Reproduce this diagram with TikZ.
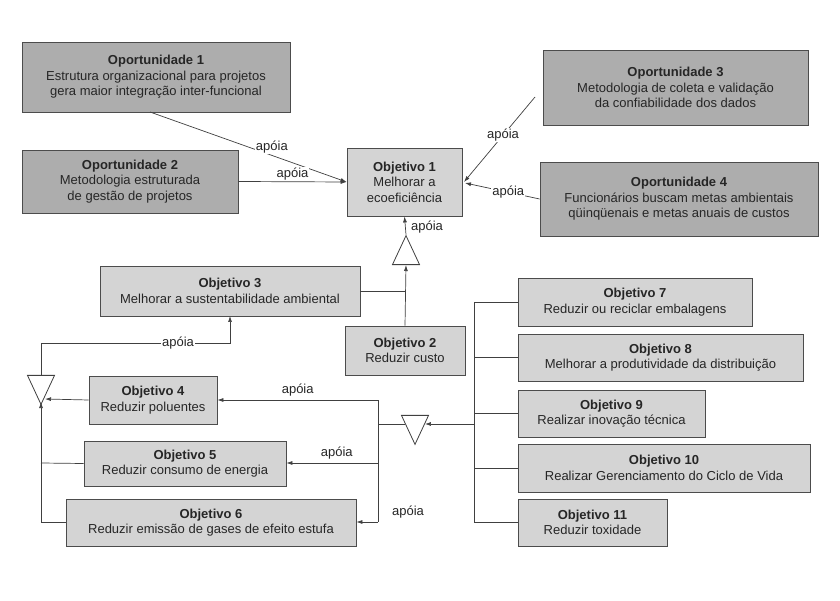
\documentclass[tikz,border=0pt]{standalone}
\usepackage{fontspec}
\setmainfont{Liberation Sans}
\usetikzlibrary{arrows.meta,shapes.geometric}
\begin{document}
\begin{tikzpicture}[x=1pt,y=-1pt,
  every node/.style={font=\fontsize{13}{15.5}\selectfont, text=black!85},
  opp/.style={draw=black!70, fill=black!32, line width=0.8pt, align=center, inner sep=0pt},
  obj/.style={draw=black!70, fill=black!17, line width=0.8pt, align=center, inner sep=0pt},
  ln/.style={draw=black!75, line width=0.7pt},
  ar/.style={ln, -{Latex[length=6pt,width=4pt]}},
  lbl/.style={fill=white, inner sep=1pt},
  tridown/.style={draw=black!75, fill=white, line width=0.8pt, isosceles triangle, shape border rotate=-90, isosceles triangle apex angle=50, minimum height=29pt, inner sep=0pt},
  triup/.style={tridown, shape border rotate=90}]
\useasboundingbox (0,0) rectangle (840,601);
\fill[white] (0,0) rectangle (840,601);
\newcommand{\bx}[7]{\node[#1, minimum width=#5-#3, minimum height=#6-#4] (#2) at ({(#3+#5)/2},{(#4+#6)/2}) {#7};}
\bx{opp}{o1}{22}{42}{290}{112}{\textbf{Oportunidade 1}\\Estrutura organizacional para projetos\\gera maior integração inter-funcional}
\bx{opp}{o2}{22}{150}{238}{213}{\textbf{Oportunidade 2}\\Metodologia estruturada\\de gestão de projetos}
\bx{opp}{o3}{543}{50}{808}{125}{\textbf{Oportunidade 3}\\Metodologia de coleta e validação\\da confiabilidade dos dados}
\bx{opp}{o4}{540}{162}{818}{236}{\textbf{Oportunidade 4}\\Funcionários buscam metas ambientais\\qüinqüenais e metas anuais de custos}
\bx{obj}{b1}{347}{148}{462}{216}{\textbf{Objetivo 1}\\Melhorar a\\ecoeficiência}
\bx{obj}{b3}{100}{266}{360}{316}{\textbf{Objetivo 3}\\Melhorar a sustentabilidade ambiental}
\bx{obj}{b2}{345}{326}{465}{375}{\textbf{Objetivo 2}\\Reduzir custo}
\bx{obj}{b7}{518}{278}{752}{326}{\textbf{Objetivo 7}\\Reduzir ou reciclar embalagens}
\bx{obj}{b8}{518}{334}{803}{381}{\textbf{Objetivo 8}\\Melhorar a produtividade da distribuição}
\bx{obj}{b9}{518}{390}{705}{437}{\textbf{Objetivo 9}\\Realizar inovação técnica}
\bx{obj}{b10}{518}{444}{810}{492}{\textbf{Objetivo 10}\\Realizar Gerenciamento do Ciclo de Vida}
\bx{obj}{b11}{518}{499}{667}{546}{\textbf{Objetivo 11}\\Reduzir toxidade}
\bx{obj}{b4}{89}{376}{217}{424}{\textbf{Objetivo 4}\\Reduzir poluentes}
\bx{obj}{b5}{84}{441}{286}{486}{\textbf{Objetivo 5}\\Reduzir consumo de energia}
\bx{obj}{b6}{66}{499}{356}{546}{\textbf{Objetivo 6}\\Reduzir emissão de gases de efeito estufa}
\node[triup] (tu) at (406,256) {};
\node[tridown] (tm) at (415,424) {};
\node[tridown] (tl) at (41,384) {};
% top arrows
\draw[ar] (150,112) -- (b1.west) node[lbl, pos=0.62, above=1pt] {apóia};
\draw[ar] (o2.east) -- (b1.west) node[lbl, midway, above=0pt] {apóia};
\draw[ar] (535,97) -- (464,182) node[lbl, pos=0.45] {apóia};
\draw[ar] (o4.west) -- (465,183) node[lbl, pos=0.42] {apóia};
% objective 1 tree
\draw[ar] (tu.apex) -- (b1.south) node[right=2pt, pos=0.4] {apóia};
\draw[ar] (b2.north) -- (tu.south);
\coordinate (j3) at (406,291);
\draw[ln] (b3.east) -- (j3);
% right bus
\coordinate (bt) at (474,302);
\coordinate (bb) at (474,522);
\draw[ln] (bt) -- (bb);
\foreach \n in {7,8,9,10,11} {\draw[ln] (b\n.west) -- (474,0 |- b\n.west);}
\draw[ar] (474,424) -- (tm.east);
\coordinate (mt) at (378,400);
\coordinate (mb) at (378,522);
\draw[ln] (tm.west) -- (378,424);
\draw[ln] (mt) -- (mb);
\draw[ar] (mt) -- (b4.east |- mt) node[midway, above=0pt] {apóia};
\draw[ar] (378,463) -- (b5.east |- 0,463) node[pos=0.45, above=0pt] {apóia};
\draw[ar] (mb) -- (b6.east |- mb);
\node at (408,512) {apóia};
% left tree
\draw[ar] (b4.west) -- (45,399);
\coordinate (lb) at (41,522);
\draw[ln] (b6.west |- lb) -- (lb);
\draw[ar] (lb) -- (41,402);
\draw[ln] (b5.west) -- (41,463);
\coordinate (lc1) at (41,343);
\coordinate (lc2) at (230,343);
\draw[ar] (tl.north) -- (lc1) -- (lc2) -- (230,316);
\node[lbl] at (178,343) {apóia};
\end{tikzpicture}
\end{document}
